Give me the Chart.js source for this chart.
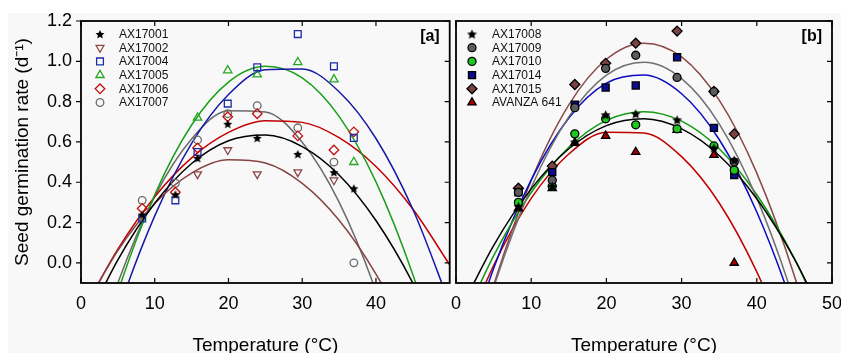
<!DOCTYPE html>
<html>
<head>
<meta charset="utf-8">
<script src="https://cdn.jsdelivr.net/npm/chart.js@4/dist/chart.umd.min.js"></script>
<style>
  html, body { margin: 0; padding: 0; background: #fff; overflow: hidden; }
  #wrap { position: relative; width: 841px; height: 353px; overflow: hidden; }
  #bg { position: absolute; left: 8px; top: 13px; width: 833px; height: 340px; background: #f8f8f8; }
  #cA { position: absolute; left: 0; top: 0; }
  #cB { position: absolute; left: 440px; top: 0; }
</style>
</head>
<body>
<div id="wrap">
  <div id="bg"></div>
  <canvas id="cA" width="456" height="357"></canvas>
  <canvas id="cB" width="420" height="357"></canvas>
</div>
<script>
// temperatures of the germination tests (°C)
const temps = [8.3, 12.8, 15.8, 19.9, 23.9, 29.4, 34.3, 37.0];

// panel [a] observed rates (d-1)
const namesA = ['AX17001', 'AX17002', 'AX17004', 'AX17005', 'AX17006', 'AX17007'];
const ax17001 = [0.24, 0.34, 0.52, 0.69, 0.62, 0.54, 0.45, 0.37];
const ax17002 = [null, null, 0.44, 0.56, 0.44, 0.45, 0.41, null];
const ax17004 = [0.22, 0.31, 0.55, 0.79, 0.97, 1.135, 0.975, 0.62];
const ax17005 = [null, null, 0.72, 0.955, 0.935, 0.995, 0.91, 0.50];
const ax17006 = [0.27, 0.35, 0.57, 0.725, 0.74, 0.63, 0.56, 0.65];
const ax17007 = [0.31, 0.395, 0.61, 0.74, 0.78, 0.67, 0.50, 0.0];

// panel [b] observed rates (d-1)
const namesB = ['AX17008', 'AX17009', 'AX17010', 'AX17014', 'AX17015', 'AVANZA 641'];
const ax17008 = [0.28, 0.38, 0.60, 0.735, 0.74, 0.71, 0.57, 0.51];
const ax17009 = [0.35, 0.41, 0.77, 0.965, 1.03, 0.92, 0.85, 0.50];
const ax17010 = [0.30, 0.38, 0.64, 0.715, 0.685, 0.665, 0.58, 0.46];
const ax17014 = [0.35, 0.45, 0.785, 0.87, 0.88, 1.02, 0.67, 0.435];
const ax17015 = [0.37, 0.48, 0.885, 0.99, 1.09, 1.15, 0.85, 0.64];
const avanza641 = [0.27, 0.37, 0.595, 0.63, 0.55, 0.66, 0.535, 0.0];

// fitted curves, every 5 °C
const curveX = [0, 5, 10, 15, 20, 25, 30, 35, 40, 45, 50];
const fit17001 = [-0.351, 0.015, 0.296, 0.493, 0.606, 0.634, 0.577, 0.436, 0.210, -0.100, -0.495];
const fit17002 = [-0.256, 0.061, 0.294, 0.445, 0.511, 0.495, 0.394, 0.211, -0.056, -0.406, -0.840];
const fit17004 = [-0.843, -0.246, 0.233, 0.593, 0.835, 0.958, 0.962, 0.849, 0.617, 0.266, -0.203];
const fit17005 = [-0.759, -0.144, 0.338, 0.684, 0.897, 0.975, 0.918, 0.727, 0.402, -0.058, -0.652];
const fit17006 = [-0.259, 0.068, 0.328, 0.521, 0.647, 0.705, 0.697, 0.621, 0.478, 0.267, -0.010];
const fit17007 = [-0.676, -0.100, 0.330, 0.615, 0.755, 0.749, 0.598, 0.301, -0.141, -0.728, -1.460];
const fit17008 = [-0.278, 0.086, 0.367, 0.566, 0.681, 0.715, 0.665, 0.533, 0.318, 0.020, -0.361];
const fit17009 = [-0.762, -0.123, 0.373, 0.724, 0.931, 0.995, 0.914, 0.690, 0.321, -0.192, -0.848];
const fit17010 = [-0.369, 0.035, 0.349, 0.573, 0.707, 0.750, 0.703, 0.566, 0.338, 0.021, -0.387];
const fit17014 = [-0.601, -0.028, 0.412, 0.719, 0.892, 0.932, 0.839, 0.612, 0.252, -0.241, -0.868];
const fit17015 = [-0.781, -0.112, 0.409, 0.784, 1.010, 1.090, 1.022, 0.807, 0.445, -0.065, -0.722];
const fitAvanza = [-0.459, -0.013, 0.320, 0.540, 0.648, 0.644, 0.527, 0.297, -0.045, -0.499, -1.066];

const xTicksA = [0, 10, 20, 30, 40];
const xTicksB = [0, 10, 20, 30, 40, 50];
const yTicks = [0, 0.2, 0.4, 0.6, 0.8, 1.0, 1.2];

const FONT = "'Liberation Sans', Arial, sans-serif";

function makeStar(size, fill) {
    const c = document.createElement('canvas');
    c.width = size; c.height = size;
    const g = c.getContext('2d');
    const r = size / 2, ri = r * 0.45;
    g.beginPath();
    for (let i = 0; i < 10; i++) {
        const rad = i % 2 ? ri : r - 0.3;
        const a = -Math.PI / 2 + i * Math.PI / 5;
        g.lineTo(r + rad * Math.cos(a), r + 0.6 + rad * Math.sin(a));
    }
    g.closePath();
    g.fillStyle = fill;
    g.fill();
    return c;
}

const starA = makeStar(10, '#000');
const starB = makeStar(11, '#000');

function pts(vals) {
    return temps.map((t, i) => ({x: t, y: vals[i]})).filter(p => p.y !== null);
}
function curve(vals) {
    return curveX.map((t, i) => ({x: t, y: vals[i]}));
}

function markers(label, vals, style, color, fill, radius, rot) {
    return {
        label: label, data: pts(vals),
        pointStyle: style, rotation: rot || 0,
        pointRadius: radius, pointHoverRadius: radius,
        borderColor: color, backgroundColor: fill,
        pointBorderWidth: 1.3, borderWidth: 1.3,
        showLine: false, legendItem: true
    };
}
function fitLine(vals, color) {
    return {
        data: curve(vals), showLine: true, pointRadius: 0,
        borderColor: color, borderWidth: 1.5, backgroundColor: 'transparent',
        cubicInterpolationMode: 'monotone', fill: false
    };
}

// frame, inward ticks, legend and panel tag
const decor = {
    id: 'decor',
    afterDatasetsDraw(chart, args, opts) {
        const {ctx, chartArea: a, scales: {x, y}} = chart;
        ctx.save();
        ctx.strokeStyle = '#000';
        ctx.lineWidth = 1.2;
        ctx.beginPath();
        opts.xTicks.forEach(v => {
            const px = x.getPixelForValue(v);
            ctx.moveTo(px, a.bottom); ctx.lineTo(px, a.bottom - 5);
            ctx.moveTo(px, a.top); ctx.lineTo(px, a.top + 5);
        });
        yTicks.forEach(v => {
            const py = y.getPixelForValue(v);
            if (opts.leftOut) { ctx.moveTo(a.left - 5, py); ctx.lineTo(a.left, py); }
            ctx.moveTo(a.right, py); ctx.lineTo(a.right - 5, py);
        });
        ctx.stroke();
        ctx.lineWidth = 1.8;
        ctx.strokeRect(a.left, a.top, a.width, a.height);

        // legend
        let row = 0;
        chart.data.datasets.forEach(ds => {
            if (!ds.legendItem) return;
            const ly = a.top + 13 + row * 13.7;
            const lx = a.left + opts.legendX;
            ctx.fillStyle = ds.backgroundColor;
            ctx.strokeStyle = ds.borderColor;
            ctx.lineWidth = ds.pointBorderWidth;
            Chart.helpers.drawPoint(ctx, {pointStyle: ds.pointStyle, rotation: ds.rotation,
                radius: ds.pointRadius, borderWidth: ds.pointBorderWidth}, lx, ly);
            ctx.fillStyle = '#111';
            ctx.font = '12px ' + FONT;
            ctx.textAlign = 'left';
            ctx.textBaseline = 'middle';
            ctx.fillText(ds.label, a.left + opts.legendTextX, ly + 0.5);
            row++;
        });

        ctx.fillStyle = '#000';
        ctx.font = 'bold 16px ' + FONT;
        ctx.textAlign = 'right';
        ctx.textBaseline = 'middle';
        ctx.fillText(opts.tag, a.right - 10, a.top + 16);
        ctx.restore();
    }
};

function makeOptions(xTicks, yWidth, showY, padRight, decorOpts) {
    return {
        responsive: false, animation: false, devicePixelRatio: 1,
        layout: {padding: {top: 21, right: padRight, left: 0, bottom: 0}},
        plugins: {legend: {display: false}, tooltip: {enabled: false}, decor: decorOpts},
        scales: {
            x: {
                type: 'linear', min: 0, max: 50,
                grid: {display: false, drawTicks: false}, border: {display: false},
                afterBuildTicks: s => { s.ticks = xTicks.map(v => ({value: v})); },
                afterFit: s => { s.height = 74; },
                ticks: {padding: 10, color: '#000', font: {family: FONT, size: 18}, maxRotation: 0},
                title: {display: true, text: 'Temperature (°C)', color: '#000',
                    font: {family: FONT, size: 19}, padding: {top: 0, bottom: 0}}
            },
            y: {
                type: 'linear', min: -0.1, max: 1.2,
                grid: {display: false, drawTicks: false}, border: {display: false},
                afterBuildTicks: s => { s.ticks = yTicks.map(v => ({value: v})); },
                afterFit: s => { s.width = yWidth; },
                ticks: {display: showY, padding: 9, color: '#000', font: {family: FONT, size: 18},
                    callback: v => v.toFixed(1)},
                title: {display: showY, text: 'Seed germination rate (d⁻¹)', color: '#000',
                    font: {family: FONT, size: 19}, padding: {top: 11, bottom: 0}}
            }
        }
    };
}

new Chart(document.getElementById('cA'), {
    type: 'scatter',
    data: {datasets: [
        markers(namesA[0], ax17001, starA, '#000', '#000', 5),
        markers(namesA[1], ax17002, 'triangle', '#8c4646', 'transparent', 4.5, 180),
        markers(namesA[2], ax17004, 'rect', '#1c2ca8', 'transparent', 4.8),
        markers(namesA[3], ax17005, 'triangle', '#22a822', 'transparent', 4.8),
        markers(namesA[4], ax17006, 'rectRot', '#c41010', 'transparent', 4.8),
        markers(namesA[5], ax17007, 'circle', '#6a6a6a', 'transparent', 3.8),
        fitLine(fit17001, '#000000'),
        fitLine(fit17002, '#854444'),
        fitLine(fit17004, '#1818a8'),
        fitLine(fit17005, '#18a018'),
        fitLine(fit17006, '#c00000'),
        fitLine(fit17007, '#6a6a6a')
    ]},
    options: makeOptions(xTicksA, 81, true, 1,
        {xTicks: xTicksA, leftOut: true, legendX: 19, legendTextX: 38, tag: '[a]'}),
    plugins: [decor]
});

new Chart(document.getElementById('cB'), {
    type: 'scatter',
    data: {datasets: [
        markers(namesB[0], ax17008, starB, '#000', '#000', 5.5),
        markers(namesB[1], ax17009, 'circle', '#000', '#5c5c5c', 4),
        markers(namesB[2], ax17010, 'circle', '#000', '#1ec81e', 4),
        markers(namesB[3], ax17014, 'rect', '#000', '#0c0c8c', 5),
        markers(namesB[4], ax17015, 'rectRot', '#000', '#7a4242', 5),
        markers(namesB[5], avanza641, 'triangle', '#000', '#a80000', 4.8),
        fitLine(fit17008, '#000000'),
        fitLine(fit17009, '#707070'),
        fitLine(fit17010, '#129a12'),
        fitLine(fit17014, '#0a0ac0'),
        fitLine(fit17015, '#8a4848'),
        fitLine(fitAvanza, '#c00000')
    ]},
    options: makeOptions(xTicksB, 16, false, 28,
        {xTicks: xTicksB, leftOut: false, legendX: 16, legendTextX: 36, tag: '[b]'}),
    plugins: [decor]
});
</script>
</body>
</html>
